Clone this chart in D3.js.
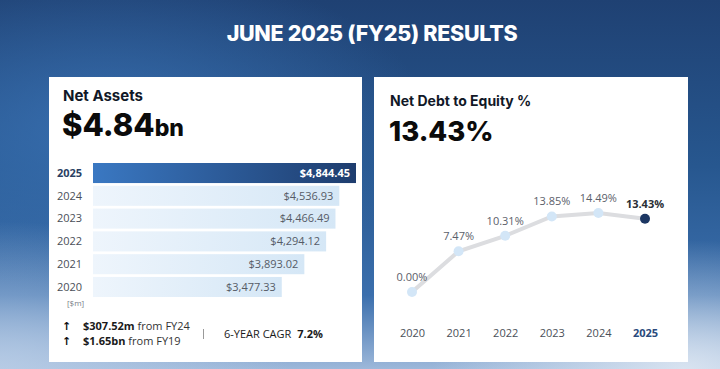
<!DOCTYPE html>
<html>
<head>
<meta charset="utf-8">
<script src="https://cdn.jsdelivr.net/npm/d3@7"></script>
<style>
  html, body { margin: 0; padding: 0; background: #1f4476; }
  svg { display: block; }
</style>
</head>
<body>
<svg width="720" height="369"></svg>
<script>
const svg = d3.select("svg");

// Data
const assetYears = ["2025", "2024", "2023", "2022", "2021", "2020"];
const assetValues = [4844.45, 4536.93, 4466.49, 4294.12, 3893.02, 3477.33];
const debtYears = ["2020", "2021", "2022", "2023", "2024", "2025"];
const debtValues = [0.00, 7.47, 10.31, 13.85, 14.49, 13.43];

const defs = svg.append("defs");

// Background gradients
const bg = defs.append("linearGradient").attr("id", "bg")
    .attr("x1", 0).attr("y1", 0).attr("x2", 0).attr("y2", 1);
bg.append("stop").attr("offset", "0%").attr("stop-color", "#1f4173");
bg.append("stop").attr("offset", "45%").attr("stop-color", "#27578f");
bg.append("stop").attr("offset", "80%").attr("stop-color", "#3b6fad");
bg.append("stop").attr("offset", "100%").attr("stop-color", "#9db8da");

const glowL = defs.append("radialGradient").attr("id", "glowL")
    .attr("cx", 0.15).attr("cy", 0.35).attr("r", 0.45);
glowL.append("stop").attr("offset", "0%").attr("stop-color", "#3a72b4").attr("stop-opacity", 0.85);
glowL.append("stop").attr("offset", "100%").attr("stop-color", "#3a72b4").attr("stop-opacity", 0);

const glowB = defs.append("radialGradient").attr("id", "glowB")
    .attr("cx", 0.95).attr("cy", 1.0).attr("r", 0.35);
glowB.append("stop").attr("offset", "0%").attr("stop-color", "#dfe8f3").attr("stop-opacity", 0.9);
glowB.append("stop").attr("offset", "100%").attr("stop-color", "#dfe8f3").attr("stop-opacity", 0);

const glowBL = defs.append("radialGradient").attr("id", "glowBL")
    .attr("cx", 0.0).attr("cy", 1.0).attr("r", 0.4);
glowBL.append("stop").attr("offset", "0%").attr("stop-color", "#b9cde6").attr("stop-opacity", 0.9);
glowBL.append("stop").attr("offset", "100%").attr("stop-color", "#b9cde6").attr("stop-opacity", 0);

svg.append("rect").attr("width", 720).attr("height", 369).attr("fill", "url(#bg)");
svg.append("rect").attr("width", 720).attr("height", 369).attr("fill", "url(#glowL)");
svg.append("rect").attr("width", 720).attr("height", 369).attr("fill", "url(#glowBL)");
svg.append("rect").attr("width", 720).attr("height", 369).attr("fill", "url(#glowB)");

// Title
svg.append("text")
    .attr("x", 372).attr("y", 41)
    .attr("text-anchor", "middle")
    .attr("fill", "#ffffff")
    .style("font-family", "Inter, Roboto, sans-serif")
    .style("font-weight", 800)
    .style("font-size", "21.5px")
    .style("letter-spacing", "-0.3px")
    .text("JUNE 2025 (FY25) RESULTS");

// Cards
svg.append("rect").attr("x", 49).attr("y", 77).attr("width", 313).attr("height", 285).attr("fill", "#ffffff");
svg.append("rect").attr("x", 374).attr("y", 77).attr("width", 314).attr("height", 285).attr("fill", "#ffffff");

const headFont = "Inter, Roboto, sans-serif";
const bodyFont = "'Open Sans', 'Noto Sans', sans-serif";

// ---------- Left card: Net Assets ----------
svg.append("text")
    .attr("x", 63).attr("y", 101)
    .attr("fill", "#111827")
    .style("font-family", headFont).style("font-weight", 700).style("font-size", "15px")
    .text("Net Assets");

const big = svg.append("text")
    .attr("x", 62).attr("y", 136)
    .attr("fill", "#0b0b0b")
    .style("font-family", headFont).style("font-weight", 800);
big.append("tspan").style("font-size", "31px").text("$4.84");
big.append("tspan").style("font-size", "23px").text("bn");

const barGrad = defs.append("linearGradient").attr("id", "barMain");
barGrad.append("stop").attr("offset", "0%").attr("stop-color", "#3a78c2");
barGrad.append("stop").attr("offset", "100%").attr("stop-color", "#1e3d6e");

const barLight = defs.append("linearGradient").attr("id", "barLight");
barLight.append("stop").attr("offset", "0%").attr("stop-color", "#eef5fc");
barLight.append("stop").attr("offset", "100%").attr("stop-color", "#d5e7f6");

const assets = assetYears.map((y, i) => ({ year: y, value: assetValues[i] }));

const xBar = d3.scaleLinear().domain([0, d3.max(assetValues)]).range([93, 356]);
const yBar = d3.scaleBand().domain(assetYears).range([163, 297]).paddingInner(0.12);

svg.selectAll(".bar")
    .data(assets)
    .enter().append("rect")
    .attr("class", "bar")
    .attr("x", xBar(0))
    .attr("y", d => yBar(d.year))
    .attr("width", d => xBar(d.value) - xBar(0))
    .attr("height", yBar.bandwidth())
    .attr("fill", (d, i) => i === 0 ? "url(#barMain)" : "url(#barLight)");

svg.selectAll(".bar-label")
    .data(assets)
    .enter().append("text")
    .attr("class", "bar-label")
    .attr("x", d => xBar(d.value) - 6)
    .attr("y", d => yBar(d.year) + yBar.bandwidth() / 2)
    .attr("dy", "0.35em")
    .attr("text-anchor", "end")
    .attr("fill", (d, i) => i === 0 ? "#ffffff" : "#555b66")
    .style("font-family", bodyFont)
    .style("font-size", "11px")
    .style("font-weight", (d, i) => i === 0 ? 700 : 400)
    .text(d => "$" + d3.format(",.2f")(d.value));

svg.selectAll(".year-label")
    .data(assets)
    .enter().append("text")
    .attr("class", "year-label")
    .attr("x", 57)
    .attr("y", d => yBar(d.year) + yBar.bandwidth() / 2)
    .attr("dy", "0.35em")
    .attr("fill", (d, i) => i === 0 ? "#2a3f63" : "#4a4f58")
    .style("font-family", bodyFont)
    .style("font-size", "11px")
    .style("font-weight", (d, i) => i === 0 ? 700 : 400)
    .text(d => d.year);

svg.append("text")
    .attr("x", 67).attr("y", 306)
    .attr("fill", "#777c86")
    .style("font-family", bodyFont).style("font-size", "8px")
    .text("[$m]");

// Footer stats
const arrowFont = "'DejaVu Sans', sans-serif";
[["$307.52m", " from FY24", 330], ["$1.65bn", " from FY19", 345]].forEach(([b, r, y]) => {
    svg.append("text").attr("x", 62).attr("y", y)
        .attr("fill", "#111")
        .style("font-family", arrowFont).style("font-weight", 700).style("font-size", "11px")
        .text("\u2191");
    const t = svg.append("text").attr("x", 83).attr("y", y)
        .attr("fill", "#1a1a1a").style("font-family", bodyFont).style("font-size", "11px");
    t.append("tspan").style("font-weight", 700).text(b);
    t.append("tspan").attr("fill", "#333").text(r);
});

svg.append("rect").attr("x", 203).attr("y", 329).attr("width", 1).attr("height", 10)
    .attr("fill", "#9a9a9a");

const cagr = svg.append("text").attr("x", 224).attr("y", 338)
    .attr("fill", "#1a1a1a").style("font-family", bodyFont).style("font-size", "11px");
cagr.append("tspan").text("6-YEAR CAGR ");
cagr.append("tspan").attr("dx", 3).style("font-weight", 700).text("7.2%");

// ---------- Right card: Net Debt to Equity ----------
svg.append("text")
    .attr("x", 390).attr("y", 106)
    .attr("fill", "#111827")
    .style("font-family", headFont).style("font-weight", 700).style("font-size", "14px")
    .text("Net Debt to Equity %");

svg.append("text")
    .attr("x", 389).attr("y", 141)
    .attr("fill", "#0b0b0b")
    .style("font-family", headFont).style("font-weight", 800).style("font-size", "27.5px")
    .text("13.43%");

const debt = debtYears.map((y, i) => ({ year: y, value: debtValues[i] }));
const last = debt.length - 1;

const xLine = d3.scalePoint().domain(debtYears).range([412, 645]);
const yLine = d3.scaleLinear().domain([0, 15]).range([292, 210.2]);

svg.append("path")
    .datum(debt)
    .attr("fill", "none")
    .attr("stroke", "#dcdde0")
    .attr("stroke-width", 4)
    .attr("stroke-linecap", "round")
    .attr("d", d3.line().x(d => xLine(d.year)).y(d => yLine(d.value)));

svg.selectAll(".pt")
    .data(debt)
    .enter().append("circle")
    .attr("class", "pt")
    .attr("cx", d => xLine(d.year))
    .attr("cy", d => yLine(d.value))
    .attr("r", 5)
    .attr("fill", (d, i) => i === last ? "#1c3763" : "#d3e6f7");

svg.selectAll(".pt-label")
    .data(debt)
    .enter().append("text")
    .attr("class", "pt-label")
    .attr("x", d => xLine(d.year))
    .attr("y", d => yLine(d.value) - 11)
    .attr("text-anchor", "middle")
    .attr("fill", (d, i) => i === last ? "#2b2f36" : "#5b606a")
    .style("font-family", bodyFont)
    .style("font-size", "11px")
    .style("font-weight", (d, i) => i === last ? 700 : 400)
    .text(d => d3.format(".2f")(d.value) + "%");

svg.append("g")
    .attr("transform", "translate(0,337)")
    .call(d3.axisBottom(xLine).tickSize(0).tickPadding(0))
    .call(g => g.select(".domain").remove())
    .call(g => g.selectAll("text")
        .attr("fill", (d, i) => i === last ? "#2a4a7c" : "#4a4f58")
        .attr("dy", 0)
        .style("font-family", bodyFont)
        .style("font-size", "11px")
        .style("font-weight", (d, i) => i === last ? 700 : 400));
</script>
</body>
</html>
